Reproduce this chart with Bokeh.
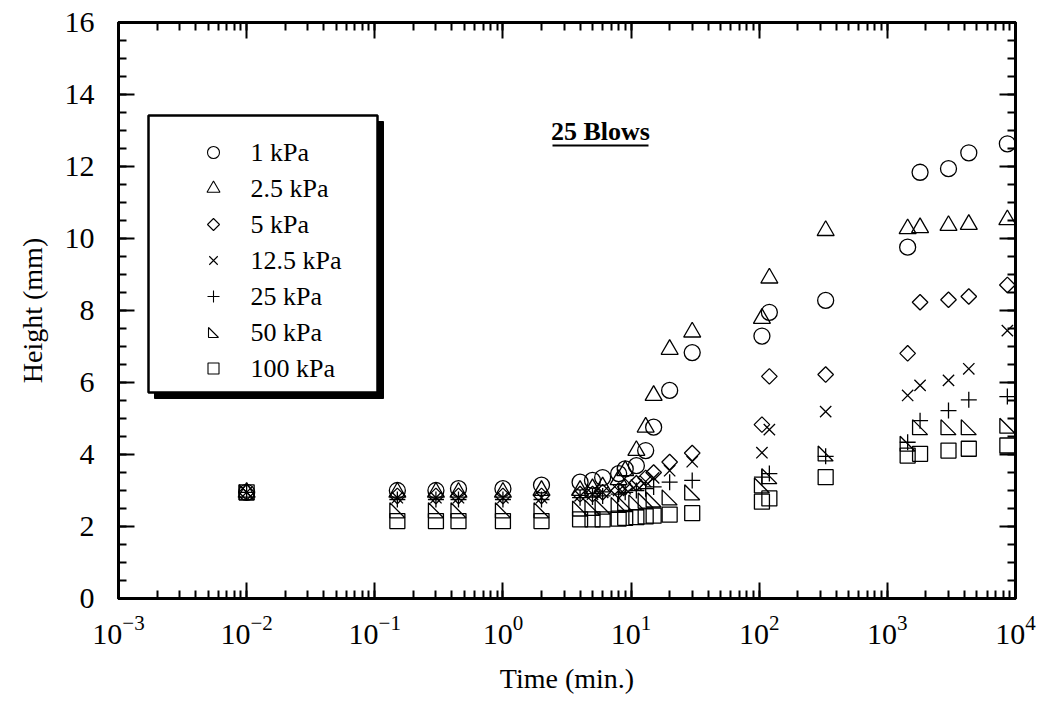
import numpy as np
from bokeh.plotting import figure
from bokeh.models import (Range1d, LinearScale, LogAxis, LinearAxis, FixedTicker,
                          LogTicker, LogTickFormatter, CustomJSTickFormatter)
from bokeh.core.properties import value
from bokeh.embed import file_html
from bokeh.resources import INLINE

# ---- data: height (mm) versus elapsed time (min.), 25 blows ----
time_min = [0.01, 0.15, 0.3, 0.45, 1, 2, 4, 5, 6, 8, 9, 11, 13, 15, 20, 30,
            105, 120, 330, 1440, 1800, 3000, 4320, 8640]

h_1kpa = [2.95, 3.0, 3.0, 3.05, 3.05, 3.15, 3.23, 3.28, 3.36, 3.47, 3.6, 3.69,
          4.11, 4.76, 5.78, 6.83, 7.29, 7.95, 8.28, 9.76, 11.84, 11.94, 12.38, 12.63]
h_2p5kpa = [2.95, 2.95, 2.95, 2.95, 2.95, 3.0, 3.0, 3.05, 3.1, 3.3, 3.55, 4.11,
            4.76, 5.64, 6.92, 7.4, 7.78, 8.9, 10.22, 10.27, 10.3, 10.36, 10.39, 10.52]
h_5kpa = [2.95, 2.85, 2.85, 2.85, 2.85, 2.85, 2.9, 2.9, 2.95, 3.0, 3.1, 3.2,
          3.35, 3.5, 3.79, 4.04, 4.83, 6.17, 6.22, 6.81, 8.23, 8.3, 8.39, 8.71]
h_12p5kpa = [2.95, 2.8, 2.8, 2.8, 2.8, 2.8, 2.85, 2.9, 2.95, 3.0, 3.05, 3.15,
             3.25, 3.35, 3.55, 3.8, 4.05, 4.69, 5.19, 5.64, 5.92, 6.06, 6.38, 7.44]
h_25kpa = [2.95, 2.75, 2.75, 2.75, 2.75, 2.75, 2.8, 2.82, 2.85, 2.9, 2.95, 3.0,
           3.05, 3.1, 3.23, 3.28, 3.37, 3.47, 3.95, 4.34, 4.94, 5.22, 5.52, 5.61]
h_50kpa = [2.95, 2.45, 2.45, 2.45, 2.45, 2.45, 2.5, 2.52, 2.55, 2.6, 2.62, 2.67,
           2.72, 2.75, 2.81, 2.95, 3.14, 3.4, 4.03, 4.3, 4.76, 4.76, 4.76, 4.8]
h_100kpa = [2.95, 2.15, 2.15, 2.15, 2.15, 2.15, 2.2, 2.2, 2.2, 2.22, 2.24, 2.26,
            2.28, 2.3, 2.33, 2.37, 2.69, 2.78, 3.37, 3.97, 4.02, 4.11, 4.16, 4.25]

series_labels = ["1 kPa", "2.5 kPa", "5 kPa", "12.5 kPa", "25 kPa", "50 kPa", "100 kPa"]

y_ticks = [0, 2, 4, 6, 8, 10, 12, 14, 16]
title_text = "25 Blows"
x_title = "Time (min.)"
y_title = "Height (mm)"

# ---- layout ----
FW, FH = 897, 576
X0, X1 = 1e-3, 1e4
Y0, Y1 = 0, 16
PX_DEC = FW / np.log10(X1 / X0)
PX_UNIT = FH / (Y1 - Y0)
FONT = "Liberation Serif"

p = figure(frame_width=FW, frame_height=FH, x_axis_type="log",
           x_range=Range1d(X0, X1), y_range=Range1d(Y0, Y1),
           output_backend="svg", toolbar_location=None,
           min_border_left=118, min_border_right=23, min_border_top=22,
           min_border_bottom=104, background_fill_color="white",
           border_fill_color="white")
p.grid.visible = False
p.outline_line_color = "black"
p.outline_line_width = 3

# pixel space inside the frame (origin top-left) for the key box and caption
p.extra_x_ranges = {"px": Range1d(0, FW)}
p.extra_y_ranges = {"px": Range1d(FH, 0)}
p.extra_x_scales = {"px": LinearScale()}
p.extra_y_scales = {"px": LinearScale()}

y_minor = [v * 0.5 for v in range(0, 33)]
blank = CustomJSTickFormatter(code="return ''")


def style_axis(ax, labels=True):
    ax.axis_line_width = 3
    ax.axis_line_color = "black"
    ax.major_tick_in = 16
    ax.major_tick_out = 0
    ax.minor_tick_in = 8
    ax.minor_tick_out = 0
    ax.major_tick_line_width = 2
    ax.minor_tick_line_width = 2
    ax.major_tick_line_color = "black"
    ax.minor_tick_line_color = "black"
    ax.major_label_text_font = FONT
    ax.major_label_text_color = "black"
    ax.axis_label_text_font = FONT
    ax.axis_label_text_font_style = "normal"
    ax.axis_label_text_color = "black"
    if labels:
        ax.major_label_text_font_size = "30px"
        ax.axis_label_text_font_size = "28px"
    else:
        ax.formatter = blank
        ax.major_label_text_font_size = "2px"
        ax.major_label_standoff = 0


def log_ticker():
    return LogTicker(mantissas=[1], num_minor_ticks=10, desired_num_ticks=8)


xb = p.xaxis[0]
xb.ticker = log_ticker()
xb.formatter = LogTickFormatter()
xb.axis_label = x_title
xb.major_label_standoff = 17
xb.axis_label_standoff = 16
style_axis(xb)

yl = p.yaxis[0]
yl.ticker = FixedTicker(ticks=y_ticks, minor_ticks=y_minor)
yl.axis_label = y_title
yl.major_label_standoff = 24
yl.axis_label_standoff = 14
style_axis(yl)

xt = LogAxis(ticker=log_ticker())
style_axis(xt, labels=False)
p.add_layout(xt, "above")
yr = LinearAxis(ticker=FixedTicker(ticks=y_ticks, minor_ticks=y_minor))
style_axis(yr, labels=False)
p.add_layout(yr, "right")

# ---- data markers ----
mk = dict(fill_color=None, line_color="black", line_width=1.3)
p.scatter(time_min, h_1kpa, marker="circle", size=16, **mk)
p.scatter(time_min, h_2p5kpa, marker="triangle", size=17, **mk)
p.scatter(time_min, h_5kpa, marker="square", angle=np.pi / 4, size=11, **mk)
p.scatter(time_min, h_12p5kpa, marker="x", size=16, **mk)
p.scatter(time_min, h_25kpa, marker="cross", size=16, **mk)
p.scatter(time_min, h_100kpa, marker="square", size=15, **mk)


def right_triangles(xs, ys, half_px):
    """Right-angled triangle (corner at lower left) around each point."""
    fx = 10 ** (half_px / PX_DEC)
    dy = half_px / PX_UNIT
    px_list, py_list = [], []
    for x, y in zip(xs, ys):
        px_list.append([x / fx, x / fx, x * fx])
        py_list.append([y + dy, y - dy, y - dy])
    return px_list, py_list


rx, ry = right_triangles(time_min, h_50kpa, 7.5)
p.patches(rx, ry, fill_color=None, line_color="black", line_width=1.3)

# ---- key box with drop shadow ----
KL, KT, KR, KB = 30, 93, 259, 370
SH = 6
p.quad(left=[KL + SH], right=[KR + SH], top=[KT + SH], bottom=[KB + SH],
       x_range_name="px", y_range_name="px", fill_color="black", line_color="black")
p.quad(left=[KL], right=[KR], top=[KT], bottom=[KB],
       x_range_name="px", y_range_name="px", fill_color="white",
       line_color="black", line_width=2.5)

row_y = [KT + 37 + 36 * i for i in range(len(series_labels))]
mx = [KL + 65] * len(series_labels)
kmk = dict(fill_color=None, line_color="black", line_width=1.1,
           x_range_name="px", y_range_name="px")
p.scatter(mx[0:1], row_y[0:1], marker="circle", size=12, **kmk)
p.scatter(mx[1:2], row_y[1:2], marker="triangle", size=13, **kmk)
p.scatter(mx[2:3], row_y[2:3], marker="square", angle=np.pi / 4, size=8.5, **kmk)
p.scatter(mx[3:4], row_y[3:4], marker="x", size=12, **kmk)
p.scatter(mx[4:5], row_y[4:5], marker="cross", size=12, **kmk)
p.scatter(mx[6:7], row_y[6:7], marker="square", size=11, **kmk)
ky = row_y[5]
p.patches([[mx[5] - 5, mx[5] - 5, mx[5] + 5]], [[ky - 5, ky + 5, ky + 5]],
          x_range_name="px", y_range_name="px", fill_color=None,
          line_color="black", line_width=1.1)

p.text(x=[KL + 102] * len(series_labels), y=row_y, text=series_labels,
       x_range_name="px", y_range_name="px", text_font=value(FONT),
       text_font_size=value("26px"), text_baseline="middle", text_align="left",
       text_color="black")

# ---- caption ----
p.text(x=[482], y=[109], text=[title_text], x_range_name="px", y_range_name="px",
       text_font=value(FONT), text_font_size=value("26px"),
       text_font_style="bold", text_align="center", text_baseline="middle",
       text_color="black")
p.segment(x0=[434], y0=[123], x1=[530], y1=[123], x_range_name="px",
          y_range_name="px", line_color="black", line_width=2)

open("out.html", "w").write(file_html(p, INLINE))
